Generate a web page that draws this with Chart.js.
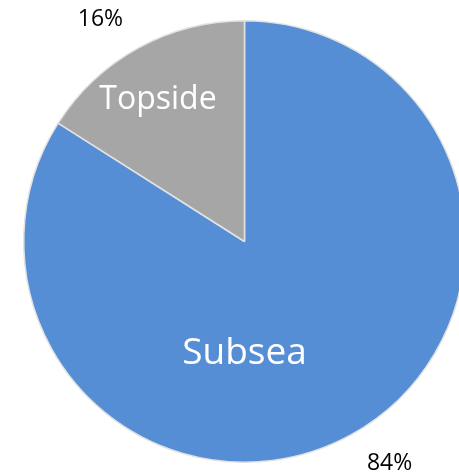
<!DOCTYPE html>
<html>
<head>
<meta charset="utf-8">
<script src="https://cdn.jsdelivr.net/npm/chart.js@4.4.0/dist/chart.umd.min.js"></script>
<style>
    html, body {
        margin: 0;
        padding: 0;
        background: #ffffff;
        overflow: hidden;
        width: 459px;
        height: 476px;
    }
    #wrap {
        position: absolute;
        left: 0;
        top: 0;
    }
</style>
</head>
<body>
<div id="wrap">
    <canvas id="pieChart" width="489" height="483"></canvas>
</div>
<script>
// chart data
const sliceLabels = ["Subsea", "Topside"];
const sliceValues = [84, 16];
const percentLabels = ["84%", "16%"];
const sliceColors = ["#558ED5", "#A6A6A6"];

const FONT = "'Open Sans', 'Noto Sans', sans-serif";

// where Excel put the labels, relative to the pie (angle in degrees from top, clockwise)
const insidePlace = [
    { angle: 180, ratio: 0.505, size: 37 },
    { angle: -31.5, ratio: 0.75, size: 32 },
];
const outsidePlace = [
    { angle: 146.8, ratio: 1.2 },
    { angle: -33.0, ratio: 1.198 },
];

const pieLabels = {
    id: "pieLabels",
    afterDatasetsDraw(chart) {
        const ctx = chart.ctx;
        const arcs = chart.getDatasetMeta(0).data;
        ctx.save();
        ctx.textAlign = "center";
        ctx.textBaseline = "middle";
        arcs.forEach((arc, i) => {
            const r = arc.outerRadius;
            const a = insidePlace[i];
            const rad = (a.angle * Math.PI) / 180;
            ctx.fillStyle = "#ffffff";
            ctx.font = a.size + "px " + FONT;
            ctx.fillText(
                sliceLabels[i],
                arc.x + Math.sin(rad) * r * a.ratio,
                arc.y - Math.cos(rad) * r * a.ratio
            );
            const o = outsidePlace[i];
            const rad2 = (o.angle * Math.PI) / 180;
            ctx.fillStyle = "#000000";
            ctx.font = "23px " + FONT;
            ctx.fillText(
                percentLabels[i],
                arc.x + Math.sin(rad2) * r * o.ratio,
                arc.y - Math.cos(rad2) * r * o.ratio
            );
        });
        ctx.restore();
    },
};

const ctx = document.getElementById("pieChart").getContext("2d");
new Chart(ctx, {
    type: "pie",
    data: {
        labels: sliceLabels,
        datasets: [
            {
                data: sliceValues,
                backgroundColor: sliceColors,
                borderColor: "#e2e2e2",
                borderWidth: 1.5,
            },
        ],
    },
    options: {
        responsive: false,
        animation: false,
        layout: {
            padding: { top: 20, bottom: 20, left: 0, right: 0 },
        },
        plugins: {
            legend: { display: false },
            tooltip: { enabled: false },
        },
    },
    plugins: [pieLabels],
});
</script>
</body>
</html>
